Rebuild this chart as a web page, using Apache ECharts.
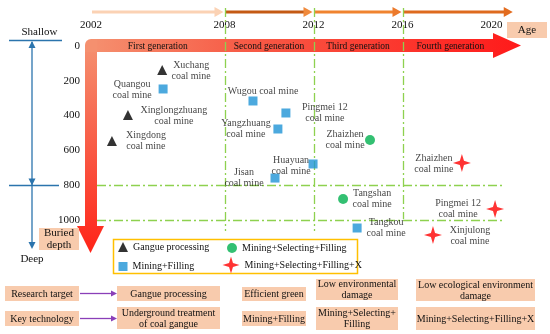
<!DOCTYPE html>
<html><head><meta charset="utf-8">
<script src="https://cdn.jsdelivr.net/npm/echarts@6/dist/echarts.min.js"></script>
<style>html,body{margin:0;padding:0;background:#fff}#c{width:550px;height:334px}</style>
</head><body><div id="c"></div>
<script>
// ---------- data ----------
const yearTicks = [2002, 2008, 2012, 2016, 2020];
const depthTicks = [0, 200, 400, 600, 800, 1000];
const generations = ['First generation', 'Second generation', 'Third generation', 'Fourth generation'];
const timelineYears = [2002, 2008, 2012, 2016, 2021];
const depthLines = [800, 1000];
const seriesNames = ['Gangue processing', 'Mining+Filling', 'Mining+Selecting+Filling', 'Mining+Selecting+Filling+X'];

const gangueMines = ['Xuchang\ncoal mine', 'Xinglongzhuang\ncoal mine', 'Xingdong\ncoal mine'];
const gangueYears = [2005.2, 2003.66, 2002.94];
const gangueDepths = [138, 397, 546];

const fillingMines = ['Quangou\ncoal mine', 'Wugou coal mine', 'Pingmei 12\ncoal mine', 'Yangzhuang\ncoal mine', 'Huayuan\ncoal mine', 'Jisan\ncoal mine', 'Tangkou\ncoal mine'];
const fillingYears = [2005.24, 2009.28, 2010.76, 2010.40, 2011.98, 2010.27, 2013.96];
const fillingDepths = [247, 316, 385, 477, 678, 759, 1046];

const selectMines = ['Zhaizhen\ncoal mine', 'Tangshan\ncoal mine'];
const selectYears = [2014.54, 2013.33];
const selectDepths = [540, 879];

const xMines = ['Zhaizhen\ncoal mine', 'Pingmei 12\ncoal mine', 'Xinjulong\ncoal mine'];
const xYears = [2018.67, 2020.16, 2017.37];
const xDepths = [672, 937, 1086];

const rowHeads = ['Research target', 'Key technology'];
const researchTargets = ['Gangue processing', 'Efficient green', 'Low environmental\ndamage', 'Low ecological environment\ndamage'];
const keyTechnologies = ['Underground treatment\nof coal gangue', 'Mining+Filling', 'Mining+Selecting+\nFilling', 'Mining+Selecting+Filling+X'];

// ---------- styles ----------
const FONT = '"Liberation Serif","Times New Roman",serif';
const TXT = '#111';
const PEACH = '#f8cbad';
const STAR = 'path://M0,-10L2.3,-2.3L10,0L2.3,2.3L0,10L-2.3,2.3L-10,0L-2.3,-2.3Z';
const labelOffsets = {
  gangue: [[29, 1], [46, 1], [34, 0]],
  filling: [[-31, 1], [10, -10], [39, 0], [-32, 0], [-22, 2], [-31, 0], [29, 0]],
  select: [[-25, 0], [29, 0]],
  x: [[-28, 1], [-37, 0], [37, 1]]
};

function mk(names, years, depths, offs) {
  return names.map((n, i) => ({ name: n, value: [years[i], depths[i]], label: { offset: offs[i] } }));
}
const labelStyle = {
  show: true, position: 'inside', formatter: '{b}', align: 'center', verticalAlign: 'middle',
  fontSize: 10, lineHeight: 11, color: TXT, fontFamily: FONT
};

const chart = echarts.init(document.getElementById('c'));
const legendText = { fontSize: 10, fontFamily: FONT, color: TXT };
const lg = (name, left, top, w, h) => ({ data: [name], left: left - 5, top: top - 5, itemWidth: w, itemHeight: h,
  textStyle: legendText, selectedMode: false });
const option = {
  animation: false,
  backgroundColor: '#fff',
  textStyle: { fontFamily: FONT },
  grid: { left: 91, top: 46, width: 445, height: 208.8 },
  xAxis: {
    type: 'value', position: 'top', min: 2002, max: 2022, interval: 1,
    axisLine: { show: false }, axisTick: { show: false }, splitLine: { show: false },
    axisLabel: { margin: 15, fontSize: 11, color: TXT, fontFamily: FONT,
      formatter: v => yearTicks.includes(v) ? String(v) : '' }
  },
  yAxis: {
    type: 'value', inverse: true, min: 0, max: 1200, interval: 200,
    axisLine: { show: false }, axisTick: { show: false }, splitLine: { show: false },
    axisLabel: { margin: 11, fontSize: 11, color: TXT, fontFamily: FONT,
      formatter: v => depthTicks.includes(v) ? String(v) : '' }
  },
  legend: [
    lg(seriesNames[0], 118, 242, 10, 10),
    lg(seriesNames[1], 118.5, 261.5, 9, 9),
    lg(seriesNames[2], 227, 243, 10, 10),
    lg(seriesNames[3], 222.5, 256.5, 17, 17)
  ],
  series: [
    { name: seriesNames[0], type: 'scatter', symbol: 'triangle', symbolSize: 10, itemStyle: { color: '#000' },
      label: labelStyle, data: mk(gangueMines, gangueYears, gangueDepths, labelOffsets.gangue), z: 5 },
    { name: seriesNames[1], type: 'scatter', symbol: 'rect', symbolSize: 9, itemStyle: { color: '#1f93d6' },
      label: labelStyle, data: mk(fillingMines, fillingYears, fillingDepths, labelOffsets.filling), z: 5 },
    { name: seriesNames[2], type: 'scatter', symbol: 'circle', symbolSize: 10, itemStyle: { color: '#00b04f' },
      label: labelStyle, data: mk(selectMines, selectYears, selectDepths, labelOffsets.select), z: 5 },
    { name: seriesNames[3], type: 'scatter', symbol: STAR, symbolSize: 18, itemStyle: { color: '#ff0000' },
      label: labelStyle, data: mk(xMines, xYears, xDepths, labelOffsets.x), z: 5 }
  ]
};
chart.setOption(option);

const P = (x, y) => chart.convertToPixel({ gridIndex: 0 }, [x, y]);
const g = [];
function txt(x, y, text, size, z, extra) {
  return Object.assign({ type: 'text', x: x, y: y, z: z || 4, silent: true,
    style: Object.assign({ text: text, fill: TXT, font: size + 'px ' + FONT, align: 'center', verticalAlign: 'middle', lineHeight: size + 1 }, extra || {}) });
}
function box(x0, y0, x1, y1, text, size) {
  g.push({ type: 'rect', z: 3, silent: true, shape: { x: x0, y: y0, width: x1 - x0, height: y1 - y0 }, style: { fill: PEACH } });
  g.push(txt((x0 + x1) / 2, (y0 + y1) / 2 + 0.5, text, size || 10, 4));
}
function hArrow(x0, x1, y, lc, hc, lw, hl, hw, z) {
  g.push({ type: 'line', z: z, silent: true, shape: { x1: x0, y1: y, x2: x1 - hl + 1, y2: y }, style: { stroke: lc, lineWidth: lw } });
  g.push({ type: 'polygon', z: z, silent: true, shape: { points: [[x1 - hl, y - hw], [x1, y], [x1 - hl, y + hw]] }, style: { fill: hc } });
}

// top timeline arrows
const tlColors = [['#fbd2b4', '#fbd2b4'], ['#c45a14', '#f08a3c'], ['#f0832f', '#ec7a2c'], ['#de6a1e', '#e36c1f']];
for (let i = 0; i < 4; i++) {
  const xa = P(timelineYears[i], 0)[0] + 1, xb = P(timelineYears[i + 1], 0)[0] - 1;
  hArrow(xa, xb, 12, tlColors[i][0], tlColors[i][1], 3, 9, 5, 2);
}

// big L arrow
const grad = (x2, y2, c0, cm, c1) => ({ type: 'linear', x: 0, y: 0, x2: x2, y2: y2,
  colorStops: [{ offset: 0, color: c0 }, { offset: 0.35, color: cm }, { offset: 1, color: c1 }] });
g.push({ type: 'polygon', z: 1, silent: true,
  shape: { points: [[91, 39], [493, 39], [493, 33], [521, 45.5], [493, 58], [493, 52], [91, 52]] },
  style: { fill: grad(1, 0, '#f5906f', '#f75c47', '#ff1a1a') } });
g.push({ type: 'polygon', z: 1, silent: true,
  shape: { points: [[85, 45], [97, 45], [97, 226], [104, 226], [90.5, 253], [77, 226], [85, 226]] },
  style: { fill: grad(0, 1, '#f5906f', '#f76a52', '#ff2418') } });
g.push({ type: 'rect', z: 1, silent: true, shape: { x: 85, y: 39, width: 12, height: 13, r: [6, 0, 0, 0] }, style: { fill: '#f5906f' } });

// generation labels
for (let i = 0; i < 4; i++) {
  const xc = (P(timelineYears[i], 0)[0] + P(Math.min(timelineYears[i + 1], 2020.3), 0)[0]) / 2;
  g.push(txt(xc, 46, generations[i], 9.5, 4));
}

// green dash-dot lines
const dash = { stroke: '#8ed14f', lineWidth: 1.3, lineDash: [9, 3, 2, 3] };
const vEnds = [231, 231, 219];
[2008, 2012, 2016].forEach((yr, i) => {
  const x = Math.round(P(yr, 0)[0]) + 0.5;
  g.push({ type: 'line', z: 2, silent: true, shape: { x1: x, y1: 8, x2: x, y2: vEnds[i] }, style: dash });
});
const hEnds = [505, 502];
depthLines.forEach((d, i) => {
  const y = Math.round(P(2002, d)[1]) + 0.5;
  g.push({ type: 'line', z: 2, silent: true, shape: { x1: 97, y1: y, x2: hEnds[i], y2: y }, style: dash });
});

// left blue depth indicator
const BL = '#2b74ad';
const bl = { stroke: BL, lineWidth: 1.3 };
g.push({ type: 'line', z: 2, silent: true, shape: { x1: 9, y1: 40.5, x2: 62, y2: 40.5 }, style: bl });
g.push({ type: 'line', z: 2, silent: true, shape: { x1: 32, y1: 42, x2: 32, y2: 245 }, style: bl });
const y800 = Math.round(P(2002, 800)[1]) + 0.5;
g.push({ type: 'line', z: 2, silent: true, shape: { x1: 9, y1: y800, x2: 59, y2: y800 }, style: bl });
g.push({ type: 'polygon', z: 2, silent: true, shape: { points: [[32, 41], [28.5, 48], [35.5, 48]] }, style: { fill: BL } });
g.push({ type: 'polygon', z: 2, silent: true, shape: { points: [[32, y800], [28.5, y800 - 7], [35.5, y800 - 7]] }, style: { fill: BL } });
g.push({ type: 'polygon', z: 2, silent: true, shape: { points: [[32, 249], [28.5, 242], [35.5, 242]] }, style: { fill: BL } });
g.push(txt(39.5, 32, 'Shallow', 11, 4));
g.push(txt(32, 259, 'Deep', 11, 4));
box(39, 228, 79, 250, 'Buried\ndepth', 11);
box(507, 22, 547, 38, 'Age', 11);

// legend border
g.push({ type: 'rect', z: 2, silent: true, shape: { x: 113.5, y: 239.5, width: 244, height: 34 }, style: { fill: 'none', stroke: '#ffc000', lineWidth: 1.5 } });

// bottom table
const PUR = '#8a3fb8';
box(5, 286, 79, 301, rowHeads[0]);
box(5, 311, 79, 326, rowHeads[1]);
hArrow(80, 117, 293.5, PUR, PUR, 1.3, 6, 3, 3);
hArrow(80, 117, 318.5, PUR, PUR, 1.3, 6, 3, 3);
const colX = [[117, 220], [242, 306], [316, 398], [416, 535]];
const row1Y = [[286, 301], [287, 301], [279, 300], [279, 301]];
const row2Y = [[307, 329], [311, 326], [307, 330], [307, 330]];
for (let i = 0; i < 4; i++) {
  box(colX[i][0], row1Y[i][0], colX[i][1], row1Y[i][1], researchTargets[i]);
  box(colX[i][0], row2Y[i][0], colX[i][1], row2Y[i][1], keyTechnologies[i]);
}

chart.setOption({ graphic: g });
</script></body></html>
